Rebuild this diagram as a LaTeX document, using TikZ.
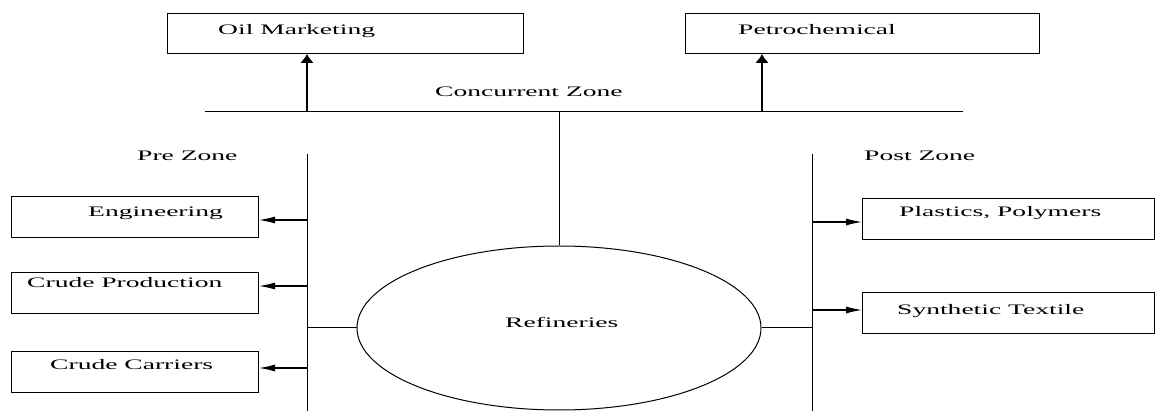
\documentclass[tikz,border=0pt]{standalone}
\usepackage{fontspec}
\setmainfont{Liberation Serif}[FakeStretch=1.9]
\usetikzlibrary{arrows.meta,shapes.geometric}
\tikzset{
  box/.style={draw, line width=1pt, inner sep=0pt, anchor=north west},
  lbl/.style={anchor=base west, inner sep=0pt, font=\fontsize{14.5}{17}\selectfont},
  conn/.style={line width=1pt},
  harrow/.style={line width=1.2pt, -{Latex[length=16pt,width=7pt]}},
  varrow/.style={line width=2pt, -{Latex[length=9pt,width=14pt]}},
}
\begin{document}
\begin{tikzpicture}[x=1pt,y=-1pt]
\useasboundingbox (0,0) rectangle (1164,411);
% top boxes
\node[box, minimum width=356pt, minimum height=40pt] (om) at (167,13) {};
\node[lbl] (omt) at (218,35) {Oil Marketing};
\node[box, minimum width=354pt, minimum height=40pt] (pc) at (685,13) {};
\node[lbl] (pct) at (738,35) {Petrochemical};
% concurrent zone line
\coordinate (cl) at (205,112);
\coordinate (cr) at (963,112);
\draw[conn] (cl) -- (cr);
\node[lbl] (czt) at (435,97) {Concurrent Zone};
\coordinate (a1) at (307,112);
\coordinate (a2) at (762,112);
\draw[varrow] (a1) -- (a1 |- om.south);
\draw[varrow] (a2) -- (a2 |- pc.south);
% refineries
\node[draw, ellipse, line width=1pt, minimum width=404pt, minimum height=164pt, inner sep=0pt] (ref) at (559,328) {};
\node[lbl] (reft) at (505,327) {Refineries};
\coordinate (cm) at (559,112);
\draw[conn] (cm) -- (ref.north);
% zone verticals
\coordinate (lt) at (307,154);
\coordinate (lb) at (307,411);
\coordinate (rt) at (812,154);
\coordinate (rb) at (812,411);
\draw[conn] (lt) -- (lb);
\draw[conn] (rt) -- (rb);
\node[lbl] (pzt) at (137,161) {Pre Zone};
\node[lbl] (pozt) at (864,161) {Post Zone};
\draw[conn] (ref.west) -- (ref.west -| lt);
\draw[conn] (ref.east) -- (ref.east -| rt);
% left boxes
\node[box, minimum width=247pt, minimum height=41pt] (eng) at (11,196) {};
\node[lbl] (engt) at (88,217) {Engineering};
\node[box, minimum width=247pt, minimum height=41pt] (cp) at (11,272) {};
\node[lbl] (cpt) at (27,288) {Crude Production};
\node[box, minimum width=247pt, minimum height=41pt] (cc) at (11,351) {};
\node[lbl] (cct) at (50,370) {Crude Carriers};
\coordinate (e1) at (307,220);
\coordinate (e2) at (307,286);
\coordinate (e3) at (307,368);
\draw[harrow] (e1) -- (e1 -| eng.east);
\draw[harrow] (e2) -- (e2 -| cp.east);
\draw[harrow] (e3) -- (e3 -| cc.east);
% right boxes
\node[box, minimum width=292pt, minimum height=41pt] (pl) at (862,198) {};
\node[lbl] (plt) at (899,217) {Plastics, Polymers};
\node[box, minimum width=292pt, minimum height=41pt] (st) at (862,292) {};
\node[lbl] (stt) at (897,315) {Synthetic Textile};
\coordinate (r1) at (812,222);
\coordinate (r2) at (812,310);
\draw[harrow] (r1) -- (r1 -| pl.west);
\draw[harrow] (r2) -- (r2 -| st.west);
\end{tikzpicture}
\end{document}
